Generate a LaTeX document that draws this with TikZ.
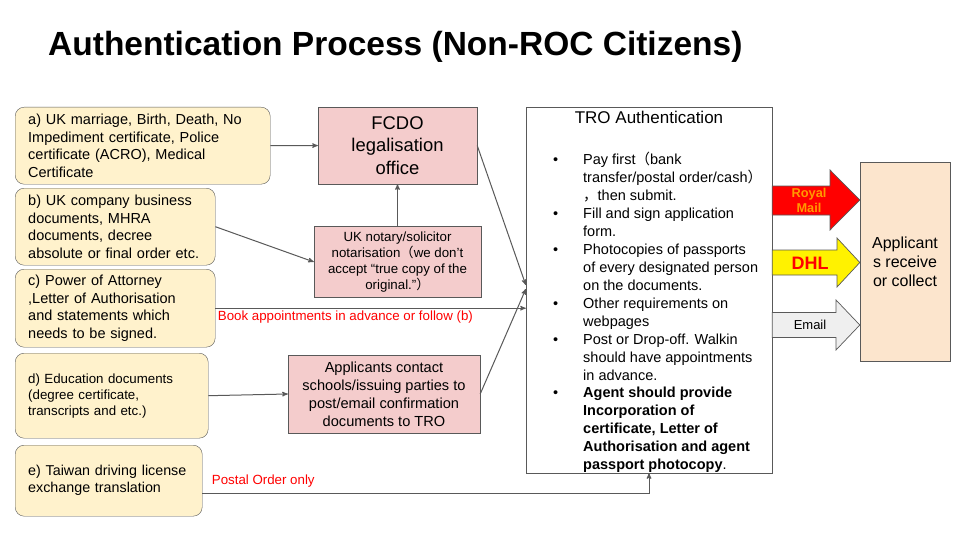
\documentclass[tikz,border=0pt]{standalone}
\usepackage{fontspec}
\setmainfont{Liberation Sans}
\newfontfamily\cjk{Noto Sans CJK SC}
\usetikzlibrary{arrows,positioning}

\definecolor{docyellow}{HTML}{FFF2CC}
\definecolor{officered}{HTML}{F4CCCC}
\definecolor{recvpeach}{HTML}{FCE5CD}
\definecolor{edgegray}{HTML}{595959}
\definecolor{mailorange}{HTML}{FF9900}
\definecolor{emailgray}{HTML}{EFEFEF}

\newcommand{\fs}[2]{\fontsize{#1}{#2}\selectfont}
\newcommand{\tbul}{\llap{\textbullet\hspace{25pt}}}

\begin{document}
\begin{tikzpicture}[x=1pt,y=-1pt,>=stealth',
		doc/.style={rectangle,rounded corners=9pt,draw=edgegray,fill=docyellow,
			anchor=north west,align=left,inner xsep=13pt,inner ysep=0pt},
		office/.style={rectangle,draw=edgegray,fill=officered,align=center,inner sep=2pt},
		note/.style={text=red,font=\fs{13.3}{16},inner sep=1pt},
		flow/.style={->,draw=edgegray,line width=1pt},
		carrier/.style={draw=edgegray,line width=0.7pt}]

		\path[use as bounding box,fill=white] (0,0) rectangle (960,540);

		\node[anchor=base west,inner sep=0pt,font=\bfseries\fs{33.5}{36}] (title) at (48,56)
			{Authentication Process (Non-ROC Citizens)};

		% documents on the left
		\node[doc,text width=229pt,minimum height=77pt,font=\fs{14.5}{17.7}] (a) at (15,107)
			{a) UK marriage, Birth, Death, No\\ Impediment certificate, Police\\ certificate (ACRO), Medical\\ Certificate};
		\node[doc,text width=174pt,minimum height=77pt,font=\fs{14.5}{17.7}] (b) at (15,188)
			{b) UK company business\\ documents, MHRA\\ documents, decree\\ absolute or final order etc.};
		\node[doc,text width=174pt,minimum height=78pt,font=\fs{14.5}{17.7}] (c) at (15,269)
			{c) Power of Attorney\\ ,Letter of Authorisation\\ and statements which\\ needs to be signed.};
		\node[doc,text width=167pt,minimum height=85pt,font=\fs{13.3}{16}] (d) at (15,353)
			{d) Education documents\\ (degree certificate,\\ transcripts and etc.)};
		\node[doc,text width=161pt,minimum height=71pt,font=\fs{14.3}{17}] (e) at (15,445)
			{e) Taiwan driving license\\ exchange translation};

		% offices
		\node[office,minimum width=159pt,minimum height=77pt,font=\fs{18.4}{22.5}] (fcdo) at (397.5,145.5)
			{FCDO\\ legalisation\\ office};
		\node[office,below=42pt of fcdo,minimum width=167pt,minimum height=71pt,font=\fs{13.3}{16}] (notary)
			{UK notary/solicitor\\ notarisation{\cjk （}we don’t\\ accept “true copy of the\\ original.”{\cjk ）}};
		\node[office,minimum width=192pt,minimum height=78pt,font=\fs{14.6}{18}] (contact) at (384,394)
			{Applicants contact\\ schools/issuing parties to\\ post/email confirmation\\ documents to TRO};

		% TRO
		\node[rectangle,draw=edgegray,fill=white,minimum width=246pt,minimum height=366pt] (tro) at (649,290) {};
		\node[anchor=base,inner sep=0pt,font=\fs{17}{20}] (trotitle) at ([yshift=-17pt]tro.north) {TRO Authentication};
		\node[anchor=north west,align=left,inner sep=0pt,font=\fs{14.5}{17.95}] (trolist) at (583,152)
			{\tbul Pay first{\cjk （}bank\\
			transfer/postal order/cash{\cjk ）}\\
			{\cjk ，}then submit.\\
			\tbul Fill and sign application\\
			form.\\
			\tbul Photocopies of passports\\
			of every designated person\\
			on the documents.\\
			\tbul Other requirements on\\
			webpages\\
			\tbul Post or Drop-off. Walkin\\
			should have appointments\\
			in advance.\\
			\tbul \textbf{Agent should provide}\\
			\textbf{Incorporation of}\\
			\textbf{certificate, Letter of}\\
			\textbf{Authorisation and agent}\\
			\textbf{passport photocopy}.};

		\node[rectangle,draw=edgegray,fill=recvpeach,minimum width=90pt,minimum height=199pt,
			align=center,font=\fs{16}{19}] (recv) at (905,261.5) {Applicant\\ s receive\\ or collect};

		% carriers
		\draw[carrier,fill=red] (tro.east |- 0,186) -- (830,186) -- (830,170) -- (recv.west |- 0,200)
			-- (830,230) -- (830,215) -- (tro.east |- 0,215) -- cycle;
		\node[align=center,text=mailorange,font=\bfseries\fs{12.8}{15}] (royal) at (809,200) {Royal\\ Mail};
		\draw[carrier,fill=yellow] (tro.east |- 0,250) -- (837,250) -- (837,238) -- (recv.west |- 0,262.5)
			-- (837,287) -- (837,275) -- (tro.east |- 0,275) -- cycle;
		\node[text=red,font=\bfseries\fs{18}{20}] (dhl) at (810,263) {DHL};
		\draw[carrier,fill=emailgray] (tro.east |- 0,312.5) -- (836,312.5) -- (836,300) -- (recv.west |- 0,325)
			-- (836,350) -- (836,337.5) -- (tro.east |- 0,337.5) -- cycle;
		\node[font=\fs{13}{15}] (email) at (810,325) {Email};

		% flows
		\draw[flow] (a) -- (fcdo);
		\draw[flow] (b.east) -- (notary.west);
		\draw[flow] (notary) -- (fcdo);
		\draw[flow] (fcdo.east) -- ([yshift=5pt]tro.west);
		\draw[flow] (c.east) -- (c.east -| tro.west)
			node[note,anchor=north west,pos=0,xshift=1pt,yshift=-1pt] (booknote) {Book appointments in advance or follow (b)};
		\draw[flow] (d.east) -- (contact.west);
		\draw[flow] (contact.east) -- ([yshift=1pt]tro.west);
		\draw[flow] ([yshift=-12.5pt]e.east) -| (tro.south)
			node[note,anchor=south west,pos=0,xshift=8pt,yshift=4.5pt] (postnote) {Postal Order only};
\end{tikzpicture}
\end{document}
